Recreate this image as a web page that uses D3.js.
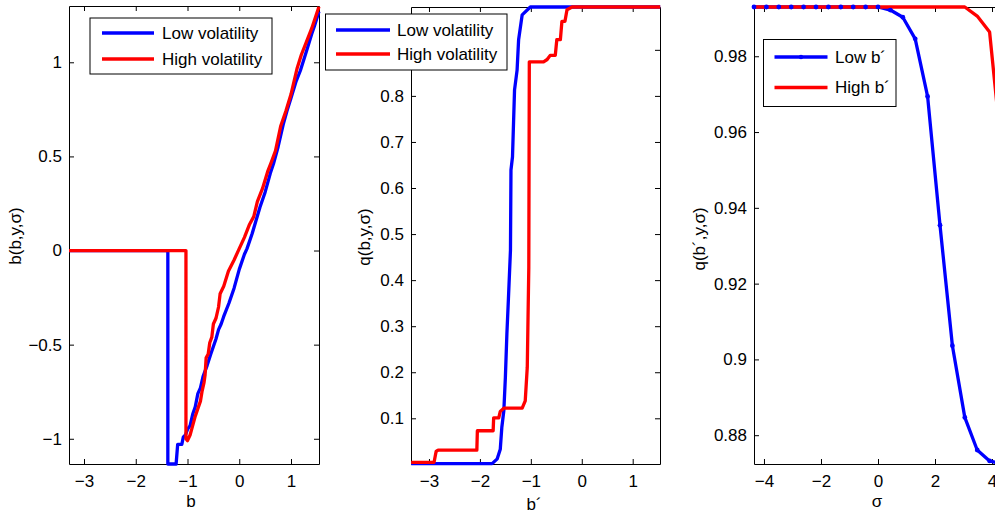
<!DOCTYPE html>
<html><head><meta charset="utf-8">
<script src="https://cdn.jsdelivr.net/npm/d3@7"></script>
<style>body{margin:0;background:#fff;overflow:hidden} svg{display:block;font-family:"Liberation Sans",Arial,Helvetica,sans-serif}</style>
</head><body><svg id="c" width="995" height="514"></svg>
<script>
// ---------- data ----------
const legendVol = ["Low volatility", "High volatility"];
const legendB = ["Low b´", "High b´"];

// panel 1: b'(b,y,sigma) policy, [b, value]
const polLow = [[-3.29,0],[-1.38,0],[-1.38,-1.134],[-1.22,-1.134],[-1.19,-1.03],[-1.11,-1.03],[-1.08,-0.99],[-1.04,-0.98],[-1.0,-0.95],[-0.95,-0.93],[-0.9,-0.87],[-0.85,-0.83],[-0.8,-0.76],[-0.75,-0.73],[-0.7,-0.67],[-0.62,-0.61],[-0.55,-0.55],[-0.5,-0.51],[-0.45,-0.47],[-0.4,-0.42],[-0.35,-0.39],[-0.3,-0.35],[-0.2,-0.28],[-0.1,-0.2],[0.0,-0.1],[0.1,-0.02],[0.15,0.01],[0.25,0.09],[0.4,0.23],[0.5,0.31],[0.6,0.41],[0.66,0.46],[0.75,0.55],[0.85,0.67],[0.92,0.74],[1.0,0.81],[1.1,0.9],[1.18,0.955],[1.3,1.06],[1.4,1.15],[1.45,1.19],[1.54,1.27]];
const polHigh = [[-3.29,0],[-1.03,0],[-1.03,-1.0],[-1.0,-1.01],[-0.95,-0.98],[-0.9,-0.93],[-0.85,-0.88],[-0.8,-0.84],[-0.75,-0.8],[-0.72,-0.75],[-0.68,-0.7],[-0.66,-0.66],[-0.64,-0.57],[-0.6,-0.55],[-0.57,-0.49],[-0.53,-0.46],[-0.5,-0.39],[-0.45,-0.36],[-0.4,-0.3],[-0.37,-0.23],[-0.3,-0.19],[-0.21,-0.11],[-0.1,-0.05],[0.0,0.01],[0.1,0.07],[0.2,0.14],[0.28,0.18],[0.35,0.26],[0.45,0.33],[0.55,0.42],[0.62,0.47],[0.7,0.53],[0.8,0.66],[0.9,0.74],[1.0,0.83],[1.12,0.97],[1.2,1.04],[1.3,1.11],[1.4,1.18],[1.54,1.295]];

// panel 2: q(b',y,sigma), [b', value]
const qLow = [[-3.35,0.0016],[-1.76,0.0016],[-1.66,0.012],[-1.6,0.033],[-1.57,0.08],[-1.53,0.117],[-1.5,0.189],[-1.47,0.284],[-1.44,0.36],[-1.4,0.465],[-1.39,0.639],[-1.36,0.668],[-1.32,0.813],[-1.27,0.856],[-1.24,0.922],[-1.17,0.976],[-1.01,0.993],[1.54,0.993]];
const qHigh = [[-3.35,0.0045],[-2.9,0.0045],[-2.86,0.028],[-2.82,0.031],[-2.06,0.031],[-2.05,0.073],[-1.74,0.073],[-1.73,0.101],[-1.63,0.101],[-1.6,0.115],[-1.53,0.122],[-1.17,0.122],[-1.11,0.138],[-1.07,0.211],[-1.04,0.428],[-1.03,0.874],[-0.75,0.874],[-0.68,0.879],[-0.62,0.888],[-0.52,0.888],[-0.49,0.922],[-0.42,0.922],[-0.39,0.962],[-0.33,0.962],[-0.29,0.987],[-0.19,0.993],[1.54,0.993]];

// panel 3: q(b',y,sigma) against sigma
const sigmaGrid = [-4.35,-3.915,-3.48,-3.045,-2.61,-2.175,-1.74,-1.305,-0.87,-0.435,0,0.435,0.87,1.305,1.74,2.175,2.61,3.045,3.48,3.915,4.35];
const qsLow = [0.993,0.993,0.993,0.993,0.993,0.993,0.993,0.993,0.993,0.993,0.993,0.9922,0.9903,0.9846,0.9694,0.9354,0.9036,0.8847,0.8761,0.8732,0.8724];
const qsHigh = [0.993,0.993,0.993,0.993,0.993,0.993,0.993,0.993,0.993,0.993,0.993,0.993,0.993,0.993,0.993,0.993,0.993,0.993,0.9906,0.9864,0.954];

// ticks (0.9 label of panel 2 is hidden under the legend in the original)
const ticks1X = [-3,-2,-1,0,1], ticks1Y = [-1,-0.5,0,0.5,1];
const ticks2X = [-3,-2,-1,0,1], ticks2Y = [0.1,0.2,0.3,0.4,0.5,0.6,0.7,0.8,0.9];
const ticks3X = [-4,-2,0,2,4], ticks3Y = [0.88,0.9,0.92,0.94,0.96,0.98];

// ---------- drawing ----------
const svg = d3.select("#c");
const FS = 17;
const BLUE = "#0000ff", RED = "#ff0000", LW = 3.3;
const fmt = d => String(+(+d).toFixed(2)).replace("-", "\u2212");

function panel(o) {
  const x = d3.scaleLinear().domain(o.xd).range([o.l, o.r]);
  const y = d3.scaleLinear().domain(o.yd).range([o.b, o.t]);
  const g = svg.append("g");
  g.append("rect").attr("x", o.l).attr("y", o.t).attr("width", o.r - o.l).attr("height", o.b - o.t).attr("fill", "#fff");
  const styleAx = s => { s.selectAll("path.domain").attr("stroke", "#000").attr("stroke-width", 1);
    s.selectAll(".tick line").attr("stroke", "#000"); s.selectAll("text").attr("font-size", FS).attr("fill", "#000").attr("font-family", null); };
  const yf = o.yfmt || fmt;
  g.append("g").attr("transform", `translate(0,${o.b})`).call(d3.axisBottom(x).tickValues(o.tx).tickFormat(fmt).tickSizeInner(-5).tickSizeOuter(0).tickPadding(11)).call(styleAx);
  g.append("g").attr("transform", `translate(0,${o.t})`).call(d3.axisTop(x).tickValues(o.tx).tickFormat("").tickSizeInner(-5).tickSizeOuter(0)).call(styleAx);
  g.append("g").attr("transform", `translate(${o.l},0)`).call(d3.axisLeft(y).tickValues(o.ty).tickFormat(yf).tickSizeInner(-5).tickSizeOuter(0).tickPadding(7)).call(styleAx);
  g.append("g").attr("transform", `translate(${o.r},0)`).call(d3.axisRight(y).tickValues(o.ty).tickFormat("").tickSizeInner(-5).tickSizeOuter(0)).call(styleAx);
  return {x, y, g};
}

function drawLine(P, data, color) {
  P.g.append("path").datum(data).attr("fill", "none").attr("stroke", color).attr("stroke-width", LW)
    .attr("stroke-linejoin", "round")
    .attr("d", d3.line().x(d => P.x(d[0])).y(d => P.y(d[1])));
}

function legend(box, names, lines, textX, withMarker) {
  const g = svg.append("g");
  g.append("rect").attr("x", box[0]).attr("y", box[1]).attr("width", box[2]).attr("height", box[3])
    .attr("fill", "#fff").attr("stroke", "#000").attr("stroke-width", 1);
  names.forEach((n, i) => {
    const c = i === 0 ? BLUE : RED;
    g.append("line").attr("x1", lines[0]).attr("x2", lines[1]).attr("y1", lines[2 + i]).attr("y2", lines[2 + i])
      .attr("stroke", c).attr("stroke-width", LW);
    if (withMarker && i === 0) g.append("circle").attr("cx", (lines[0] + lines[1]) / 2).attr("cy", lines[2]).attr("r", 2.2).attr("fill", c);
    g.append("text").attr("x", textX).attr("y", lines[2 + i]).attr("dy", "0.35em").attr("font-size", FS).text(n);
  });
}

function yLabel(x, y, t) {
  svg.append("text").attr("transform", `translate(${x},${y}) rotate(-90)`).attr("text-anchor", "middle").attr("font-size", FS).text(t);
}
function xLabel(x, y, t) {
  svg.append("text").attr("x", x).attr("y", y).attr("text-anchor", "middle").attr("font-size", FS).text(t);
}

// Panel 1
const P1 = panel({l: 69, r: 319, t: 6, b: 464, xd: [-3.29, 1.541], yd: [-1.134, 1.299], tx: ticks1X, ty: ticks1Y});
drawLine(P1, polLow, BLUE);
drawLine(P1, polHigh, RED);
yLabel(21, 236, "b(b,y,σ)");
xLabel(191, 507, "b");

// Panel 2
const P2 = panel({l: 411, r: 660, t: 7, b: 464, xd: [-3.353, 1.536], yd: [0.0008, 0.993], tx: ticks2X, ty: ticks2Y,
  yfmt: d => d === 0.9 ? "" : fmt(d)});
drawLine(P2, qLow, BLUE);
drawLine(P2, qHigh, RED);
yLabel(370, 237, "q(b,y,σ)");
xLabel(534, 510, "b´");

// Panel 3
const P3 = panel({l: 754, r: 1002, t: 7, b: 464, xd: [-4.35, 4.35], yd: [0.8724, 0.993], tx: ticks3X, ty: ticks3Y});
const s3Low = sigmaGrid.map((s, i) => [s, qsLow[i]]);
const s3High = sigmaGrid.map((s, i) => [s, qsHigh[i]]);
drawLine(P3, s3Low, BLUE);
drawLine(P3, s3High, RED);
P3.g.selectAll("circle.mk").data(s3Low).join("circle").attr("class", "mk")
  .attr("cx", d => P3.x(d[0])).attr("cy", d => P3.y(d[1])).attr("r", 2.4).attr("fill", BLUE);
yLabel(705, 239, "q(b´,y,σ)");
xLabel(877, 507, "σ");

// Legends
legend([90, 18, 182, 56], legendVol, [102, 154, 33, 59], 162, false);
legend([325.5, 14, 181.5, 56], legendVol, [336, 390, 30, 54], 397, false);
legend([763.5, 39.5, 132.5, 67], legendB, [774.5, 827.5, 57, 87.5], 835, true);
</script></body></html>
